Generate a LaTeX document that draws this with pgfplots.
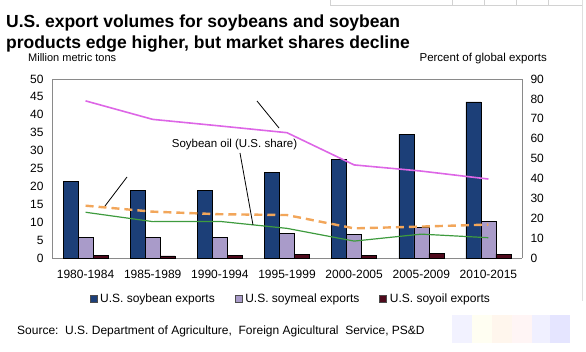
\documentclass[border=0pt]{standalone}
\usepackage{pgfplots}
\pgfplotsset{compat=1.18}
\usepackage{fontspec}
\setmainfont{Liberation Sans}
\definecolor{soybean}{HTML}{1C3F78}
\definecolor{soymeal}{HTML}{A99BC9}
\definecolor{soyoil}{HTML}{4E0A1C}
\definecolor{magline}{HTML}{DD66E6}
\definecolor{orline}{HTML}{F2A65A}
\definecolor{grline}{HTML}{3E9B3E}
\definecolor{frame}{HTML}{8A8A8A}
\begin{document}
\begin{tikzpicture}[x=1pt,y=1pt]
\path[use as bounding box] (0,0) rectangle (586,351);
% faint decorations
\draw[gray!35] (330,351) -- (330,346) -- (582,346);
\foreach \xx in {452,484,516,548} \draw[gray!35] (\xx,351) -- (\xx,346);
\draw[gray!25] (582,351) -- (582,50);
\fill[blue!5] (452,8) rectangle (472,36);
\fill[yellow!5] (472,8) rectangle (492,36);
\fill[orange!7] (492,8) rectangle (512,36);
\fill[red!4] (512,8) rectangle (532,36);
\fill[blue!6] (532,8) rectangle (550,36);
\fill[blue!10] (550,8) rectangle (570,36);
% titles
\node[anchor=base west, inner sep=0pt, font=\fontsize{17.5}{20}\selectfont\bfseries] at (6,323) {U.S. export volumes for soybeans and soybean};
\node[anchor=base west, inner sep=0pt, font=\fontsize{17.5}{20}\selectfont\bfseries] at (6,302) {products edge higher, but market shares decline};
\node[anchor=base west, inner sep=0pt, font=\fontsize{11}{12}\selectfont] at (28,289) {Million metric tons};
\node[anchor=base east, inner sep=0pt, font=\fontsize{11.5}{12}\selectfont] at (547,289) {Percent of global exports};
\node[anchor=base west, inner sep=0pt, font=\fontsize{12}{12}\selectfont] at (17,17) {Source:\ \ U.S. Department of Agriculture,\ \ Foreign Agicultural\ \ Service, PS\&D};
\begin{axis}[
  at={(52pt,93pt)}, anchor=south west,
  width=470pt, height=179pt, scale only axis,
  xmin=-0.5, xmax=6.5, ymin=0, ymax=50,
  ytick={0,5,...,50},
  axis line style={frame},
  axis x line*=bottom, axis y line*=left,
  xtick={0,...,6},
  xticklabels={1980-1984,1985-1989,1990-1994,1995-1999,2000-2005,2005-2009,2010-2015},
  major x tick style={draw=none},
  extra x ticks={0.5,1.5,2.5,3.5,4.5,5.5},
  extra x tick labels={},
  extra x tick style={major tick length=6pt, tick align=center, major tick style={draw=frame}},
  ytick style={draw=none},
  tick label style={font=\fontsize{12}{12}\selectfont},
  /pgf/number format/assume math mode=true,
  yticklabel style={xshift=-5pt},
  xticklabel style={yshift=-4pt},
  ybar, bar width=15pt,
  legend style={at={(0.508,-0.229)}, anchor=center, draw=none, fill=none,
    legend columns=3, font=\fontsize{12}{12}\selectfont,
    /tikz/every even column/.append style={column sep=18pt},
    /tikz/every odd column/.append style={column sep=1pt},
    legend cell align=left, inner sep=0pt},
  legend image code/.code={\draw[#1, draw=black!70, line width=0.5pt] (0pt,-3.5pt) rectangle (7pt,3.5pt);},
]
\addplot[fill=soybean, draw=black, line width=0.5pt, bar shift=-15pt] coordinates {(0,21.3) (1,18.9) (2,18.9) (3,24.0) (4,27.6) (5,34.6) (6,43.6)};
\addplot[fill=soymeal, draw=black, line width=0.5pt, bar shift=0pt] coordinates {(0,5.7) (1,5.7) (2,5.7) (3,6.9) (4,6.6) (5,8.6) (6,10.2)};
\addplot[fill=soyoil, draw=black, line width=0.5pt, bar shift=15pt] coordinates {(0,0.8) (1,0.6) (2,0.8) (3,1.0) (4,0.7) (5,1.2) (6,1.1)};
\legend{U.S. soybean exports,U.S. soymeal exports,U.S. soyoil exports}
\end{axis}
\begin{axis}[
  at={(52pt,93pt)}, anchor=south west,
  width=470pt, height=179pt, scale only axis,
  xmin=-0.5, xmax=6.5, ymin=0, ymax=90,
  ytick={0,10,...,90},
  axis x line=none,
  axis y line*=right,
  axis line style={frame},
  ytick style={draw=none},
  tick label style={font=\fontsize{12}{12}\selectfont},
  /pgf/number format/assume math mode=true,
  yticklabel style={xshift=5pt},
]
\addplot[magline, line width=1.6pt, mark=none] coordinates {(0,79) (1,69.7) (2,66.4) (3,63) (4,46.8) (5,43.7) (6,39.7)};
\addplot[orline, line width=2.4pt, dash pattern=on 8pt off 5pt, mark=none] coordinates {(0,26.3) (1,23.3) (2,22) (3,21.6) (4,14.9) (5,15.8) (6,16.8)};
\addplot[grline, line width=1.2pt, mark=none] coordinates {(0,23) (1,18.3) (2,18.4) (3,14.9) (4,8.5) (5,12) (6,10.2)};
\end{axis}
% top frame line of the plot area
\draw[frame] (52,272) -- (522,272);
% annotations
\draw[black, line width=0.8pt] (257,250) -- (279,223);
\draw[black, line width=0.8pt] (127,174) -- (105,145);
\draw[black, line width=0.8pt] (240,198) -- (253,126);
\node[font=\fontsize{11.5}{12}\selectfont, inner sep=0pt] at (234.5,206) {Soybean oil (U.S. share)};
\end{tikzpicture}
\end{document}
